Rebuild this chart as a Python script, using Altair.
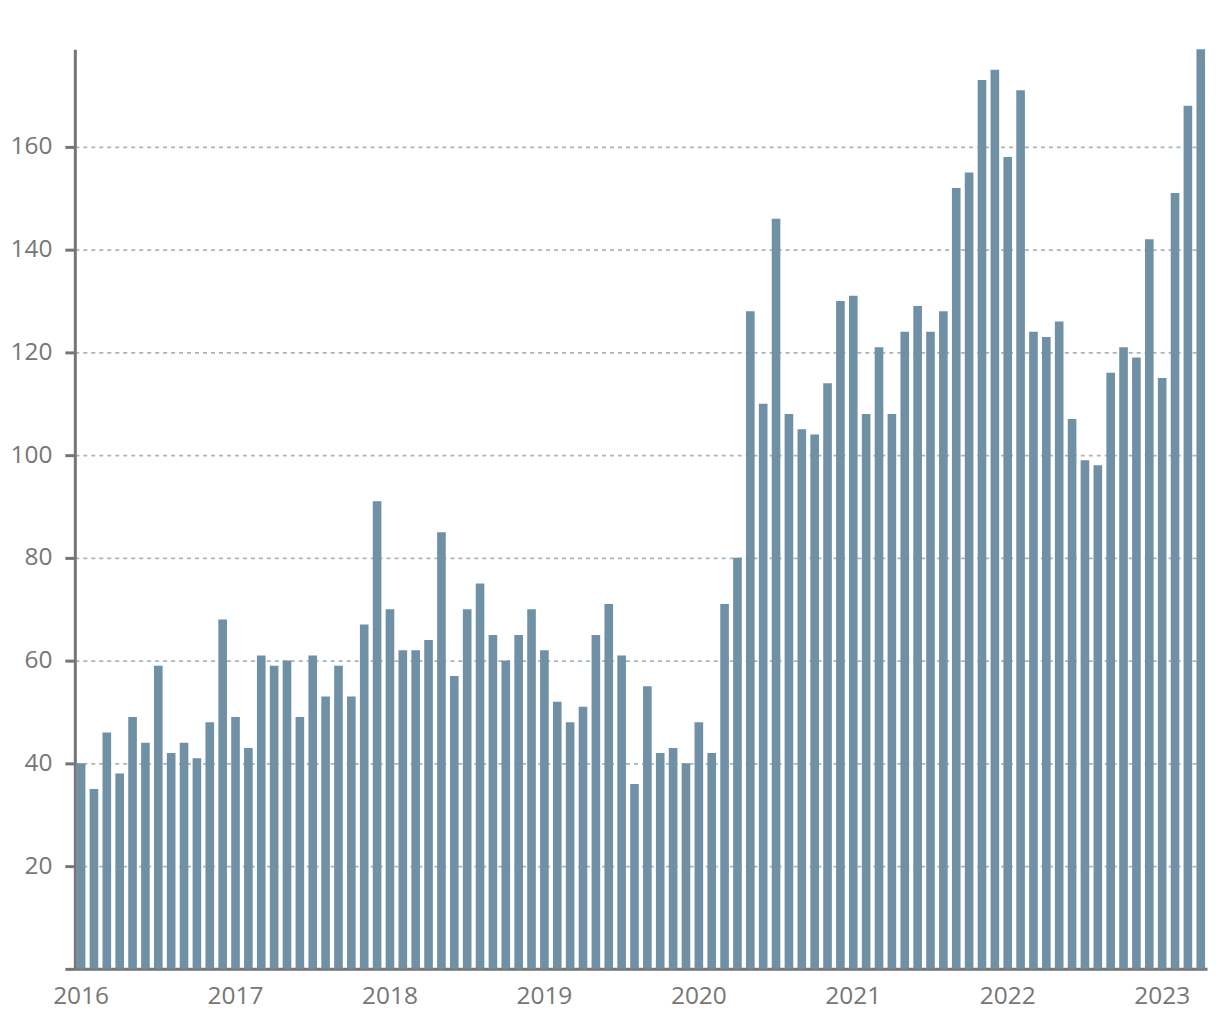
import altair as alt
import pandas as pd

# Monthly values (Jan 2016 – Apr 2023)
v2016 = [40, 35, 46, 38, 49, 44, 59, 42, 44, 41, 48, 68]
v2017 = [49, 43, 61, 59, 60, 49, 61, 53, 59, 53, 67, 91]
v2018 = [70, 62, 62, 64, 85, 57, 70, 75, 65, 60, 65, 70]
v2019 = [62, 52, 48, 51, 65, 71, 61, 36, 55, 42, 43, 40]
v2020 = [48, 42, 71, 80, 128, 110, 146, 108, 105, 104, 114, 130]
v2021 = [131, 108, 121, 108, 124, 129, 124, 128, 152, 155, 173, 175]
v2022 = [158, 171, 124, 123, 126, 107, 99, 98, 116, 121, 119, 142]
v2023 = [115, 151, 168, 179]

years = [2016, 2017, 2018, 2019, 2020, 2021, 2022, 2023]
series = [v2016, v2017, v2018, v2019, v2020, v2021, v2022, v2023]
y_ticks = [0, 20, 40, 60, 80, 100, 120, 140, 160]

rows = []
for yr, vals in zip(years, series):
    for i, v in enumerate(vals):
        rows.append({"month": f"{yr}-{i + 1:02d}", "count": v})
df = pd.DataFrame(rows)
month_order = list(df["month"])
jan_ticks = [m for m in month_order if m.endswith("-01")]

FONT = "Open Sans"
GREY = "#767676"

chart = (
    alt.Chart(df)
    .mark_bar(color="#6f90a5")
    .encode(
        x=alt.X(
            "month:O",
            sort=month_order,
            scale=alt.Scale(paddingInner=0.33, paddingOuter=0.15),
            axis=alt.Axis(
                values=jan_ticks,
                labelExpr="substring(datum.value, 0, 4)",
                labelAngle=0,
                ticks=False,
                domainColor=GREY,
                domainWidth=3,
                labelPadding=16,
                labelFont=FONT,
                labelFontSize=24.5,
                labelColor=GREY,
                title=None,
                grid=False,
            ),
        ),
        y=alt.Y(
            "count:Q",
            scale=alt.Scale(domain=[0, 179], nice=False),
            axis=alt.Axis(
                values=y_ticks,
                labelExpr="datum.value == 0 ? '' : datum.label",
                tickSize=10,
                tickWidth=3,
                tickColor=GREY,
                domainColor=GREY,
                domainWidth=3,
                grid=True,
                gridDash=[4, 4],
                gridColor="#aab5bb",
                gridWidth=1.8,
                labelPadding=13,
                labelFont=FONT,
                labelFontSize=24.5,
                labelColor=GREY,
                title=None,
            ),
        ),
    )
    .properties(
        width=1135,
        height=922,
        autosize=alt.AutoSizeParams(type="none"),
        padding={"left": 67, "top": 40, "right": 5, "bottom": 50},
    )
    .configure_view(stroke=None)
)

chart.save("out.html", embed_options={"renderer": "svg", "actions": False})
